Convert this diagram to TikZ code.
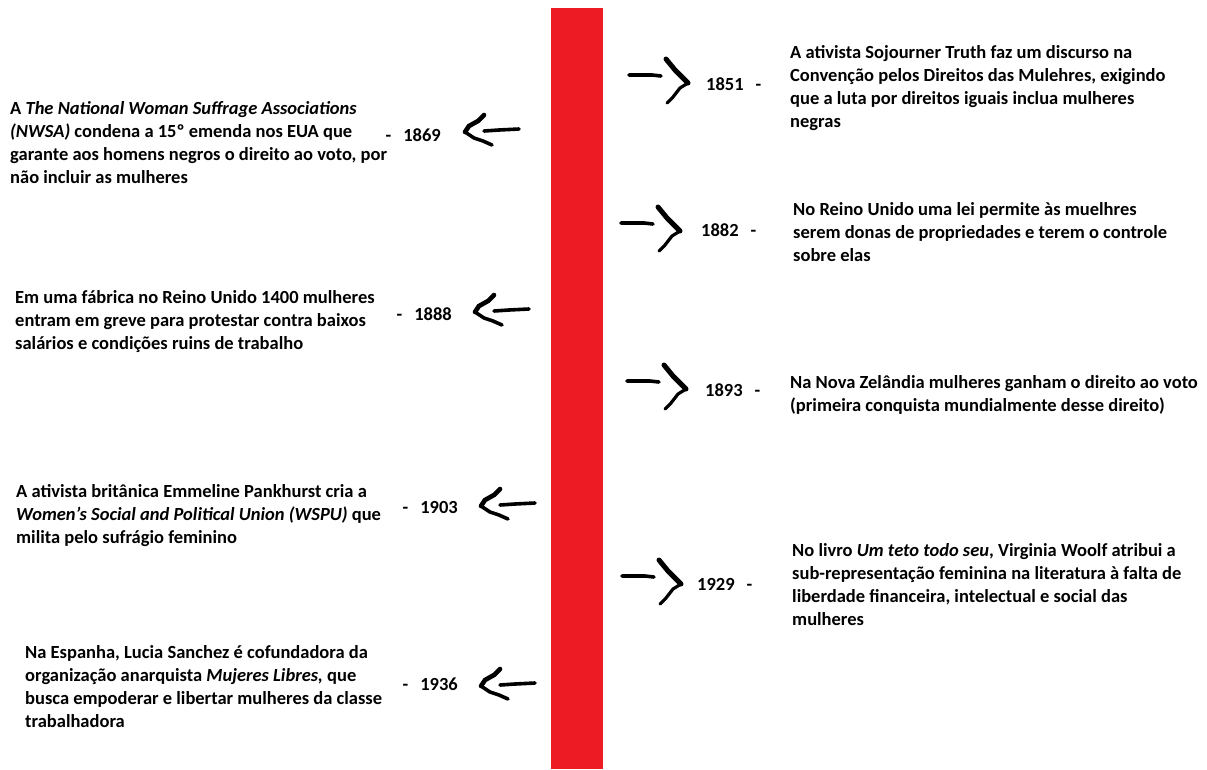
\documentclass[tikz,border=0pt]{standalone}
\usepackage{fontspec}
\setmainfont{Carlito}
\definecolor{barred}{HTML}{ED1C24}
\tikzset{
  txt/.style={anchor=base west, align=left, inner sep=0pt, font=\fontsize{18.5}{23.3}\selectfont\bfseries},
  yr/.style={inner sep=0pt, font=\fontsize{18.5}{23.3}\selectfont\bfseries},
  stroke/.style={line width=3.6pt, line cap=round, line join=miter, black},
  larrow/.pic={
    \draw[stroke] (54,-3) -- (34,-2) -- (19,-1);
    \draw[stroke, line width=4.6pt] (19,-17) -- (13,-11) -- (4,-6) -- (0,0);
    \draw[stroke, line width=3.6pt] (0,0) -- (9,6) -- (18,9) -- (27,13);
  },
  rarrow/.pic={
    \draw[stroke] (-59,-8) -- (-36,-8) -- (-27,-7);
    \draw[stroke, line width=5pt] (-22,-24) -- (-13,-13) -- (0,0);
    \draw[stroke, line width=3.2pt] (0,0) -- (-8,5) -- (-15,14) -- (-21,20);
  }
}
\begin{document}
\begin{tikzpicture}[x=1pt, y=-1pt]
\useasboundingbox (0,0) rectangle (1207,769);
\fill[barred] (551,8) rectangle (603,769);

% left side (anchor = baseline of last line)
\node[txt] (t1869) at (10,183.9) {A \textit{The National Woman Suffrage Associations}\\\textit{(NWSA)} condena a 15º emenda nos EUA que\\garante aos homens negros o direito ao voto, por\\não incluir as mulheres};
\node[yr, anchor=base east] (y1869) at (441,141) {-\hspace{12pt}1869};
\pic at (465,132) {larrow};

\node[txt] (t1888) at (15,349.6) {Em uma fábrica no Reino Unido 1400 mulheres\\entram em greve para protestar contra baixos\\salários e condições ruins de trabalho};
\node[yr, anchor=base east] (y1888) at (452,320) {-\hspace{12pt}1888};
\pic at (475,312) {larrow};

\node[txt] (t1903) at (16,543.6) {A ativista britânica Emmeline Pankhurst cria a\\\textit{Women's Social and Political Union (WSPU)} que\\milita pelo sufrágio feminino};
\node[yr, anchor=base east] (y1903) at (458,513) {-\hspace{12pt}1903};
\pic at (481,506) {larrow};

\node[txt] (t1936) at (25,727.9) {Na Espanha, Lucia Sanchez é cofundadora da\\organização anarquista \textit{Mujeres Libres,} que\\busca empoderar e libertar mulheres da classe\\trabalhadora};
\node[yr, anchor=base east] (y1936) at (458,690) {-\hspace{12pt}1936};
\pic at (481,686) {larrow};

% right side
\node[txt] (t1851) at (790,127.9) {A ativista Sojourner Truth faz um discurso na\\Convenção pelos Direitos das Mulehres, exigindo\\que a luta por direitos iguais inclua mulheres\\negras};
\node[yr, anchor=base west] (y1851) at (706,90) {1851\hspace{12pt}-};
\pic at (688,83) {rarrow};

\node[txt] (t1882) at (793,261.6) {No Reino Unido uma lei permite às muelhres\\serem donas de propriedades e terem o controle\\sobre elas};
\node[yr, anchor=base west] (y1882) at (701,236) {1882\hspace{12pt}-};
\pic at (680,231) {rarrow};

\node[txt] (t1893) at (790,411.3) {Na Nova Zelândia mulheres ganham o direito ao voto\\(primeira conquista mundialmente desse direito)};
\node[yr, anchor=base west] (y1893) at (705,396) {1893\hspace{12pt}-};
\pic at (686,389) {rarrow};

\node[txt] (t1929) at (792,625.9) {No livro \textit{Um teto todo seu}, Virginia Woolf atribui a\\sub-representação feminina na literatura à falta de\\liberdade financeira, intelectual e social das\\mulheres};
\node[yr, anchor=base west] (y1929) at (697,590) {1929\hspace{12pt}-};
\pic at (681,584) {rarrow};
\end{tikzpicture}
\end{document}
